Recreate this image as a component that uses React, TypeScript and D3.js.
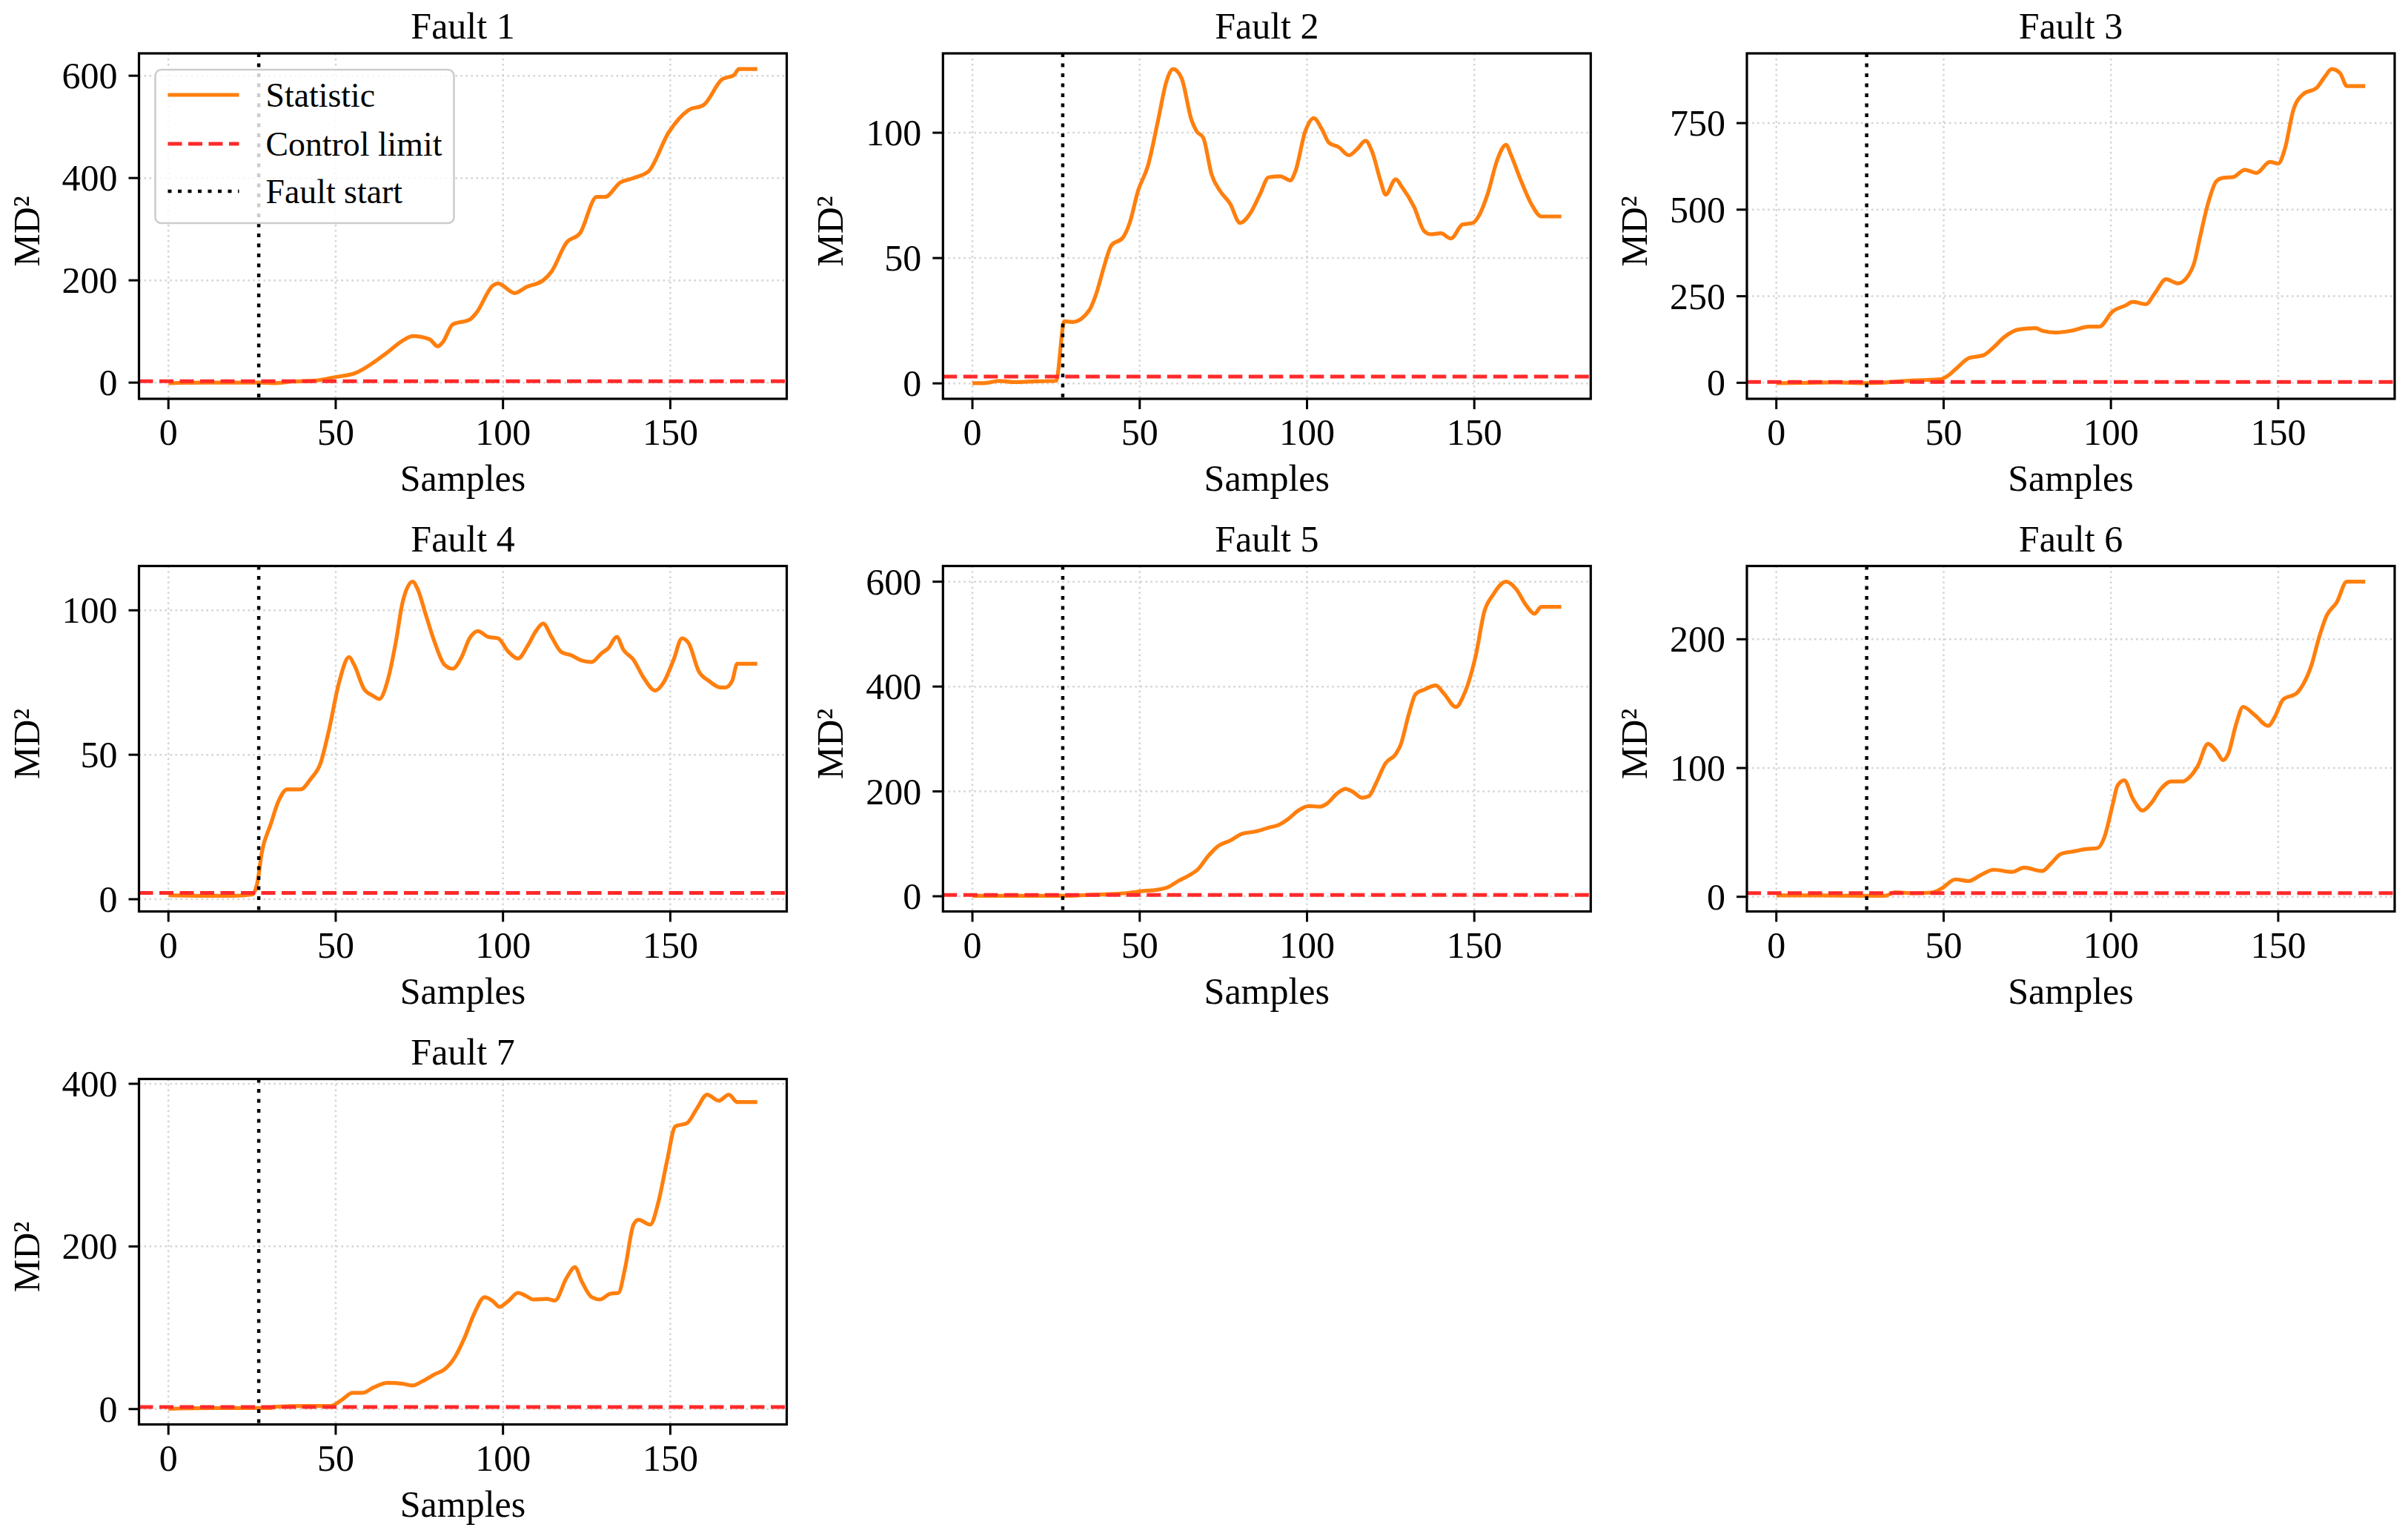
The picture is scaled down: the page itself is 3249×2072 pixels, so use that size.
import * as d3 from "d3";

// sample index where the fault begins (vertical dotted line)
const FAULT_START = 27;
const X_TICKS = [0, 50, 100, 150];

// Fault 1
const f1X = [0, 10, 20, 27, 32, 37, 44, 50, 56, 61, 65, 71, 73, 78, 80.5, 82, 85, 90, 92, 97, 98.5, 103.5, 107, 112, 114.5, 119, 123, 128, 130.5, 135, 139, 143.5, 149.5, 155.5, 160, 165.5, 169, 170.5, 176];
const f1Y = [-1, 0, 0, 0, -1, 2, 4, 11, 19, 38, 57, 86, 91, 85, 71, 79, 114, 123, 136, 190, 194, 175, 187, 200, 217, 274, 292, 363, 363, 391, 400, 413, 489, 533, 543, 593, 601, 613, 613];
const f1Ticks = [0, 200, 400, 600];

// Fault 2
const f2X = [0, 3.5, 8, 12.5, 19, 25, 27.5, 30, 35, 37, 39.5, 41.5, 45, 47, 49.5, 52.5, 55.5, 58, 60, 62.5, 65.5, 67, 69, 71.5, 74, 77, 80, 83, 86, 88.5, 92, 95, 96.5, 99.5, 102, 104.5, 106.5, 109.5, 112.5, 115, 117.5, 119.5, 122, 123.5, 126.5, 128.5, 132, 135, 137, 140, 143, 146.5, 149.5, 151.5, 154, 157, 159.5, 161, 164, 167, 170, 176];
const f2Y = [0.1, 0.1, 1, 0.5, 0.8, 1, 24.8, 24.5, 29.3, 35.7, 47.3, 55, 58.2, 64, 76.8, 87, 105, 120.5, 125.4, 121.8, 105, 100.6, 98, 83.3, 76.8, 71.7, 64, 67.8, 75.6, 82.2, 82.6, 81, 84.5, 100.6, 105.8, 101.3, 96.1, 94.2, 91, 93.5, 96.8, 92.3, 80.7, 75.3, 81.4, 78.1, 70.4, 60.8, 59.5, 59.9, 57.8, 63.4, 64, 67.2, 75.6, 89.7, 95.2, 91, 80.7, 71.7, 66.6, 66.6];
const f2Ticks = [0, 50, 100];

// Fault 3
const f3X = [0, 9.5, 17, 26.5, 31, 35.5, 41, 49, 51.5, 54, 57.5, 62, 65, 68, 72.5, 77.5, 79.5, 83.5, 88, 93.5, 96.5, 100.5, 104.5, 106.5, 110.5, 113, 116.5, 120, 123, 125, 126.5, 129, 131.5, 133.5, 136.5, 140, 143.5, 147.5, 150, 152, 154.5, 157.5, 161.5, 164, 166, 168.5, 170.5, 176];
const f3Y = [-1, 0, 1, -1, 0, 3, 7, 10, 22, 43, 71, 80, 103, 131, 154, 158, 150, 145, 150, 162, 162, 206, 224, 234, 227, 257, 299, 287, 308, 350, 415, 517, 582, 592, 594, 615, 606, 638, 633, 676, 787, 834, 852, 885, 906, 894, 857, 857];
const f3Ticks = [0, 250, 500, 750];

// Fault 4
const f4X = [0, 10.5, 19.5, 25, 26.5, 28, 30.5, 33, 35.5, 39.5, 42.5, 45.5, 48, 51, 54, 55.5, 58.5, 61, 63, 65.5, 68, 70, 73, 74.5, 77, 79.5, 82.5, 85, 87.5, 90, 92.5, 95.5, 98.5, 101.5, 104.5, 107.5, 110, 112, 114.5, 117.5, 120.5, 123.5, 126.5, 129.5, 131.5, 134, 136, 139, 142, 145.5, 148, 151, 153.5, 155.5, 158.5, 161.5, 165, 166.5, 168.5, 170, 176];
const f4Y = [1.4, 1.2, 1.2, 1.6, 5.3, 16.7, 25.7, 34.2, 38, 38, 41.6, 47.2, 58.6, 75, 83.8, 81.2, 72.7, 70.5, 69.3, 75.6, 89.2, 102.8, 109.9, 107.3, 98.2, 89.2, 81.2, 79.8, 83.5, 90.3, 92.8, 90.8, 90.3, 85.8, 83.3, 88, 93.1, 95.4, 90.8, 85.5, 84.4, 82.6, 82.1, 85.2, 86.9, 90.8, 86.3, 82.9, 76.7, 72.2, 75, 82.9, 90.3, 88.6, 78.9, 75.6, 73.3, 73.3, 75.6, 81.5, 81.5];
const f4Ticks = [0, 50, 100];

// Fault 5
const f5X = [0, 17, 29.5, 34, 40, 46, 51, 55.5, 58.5, 61.5, 64.5, 67.5, 70.5, 73.5, 77, 80.5, 85, 88.5, 91.5, 94.5, 97.5, 100.5, 104, 106, 109, 111.5, 113.5, 116.5, 118.5, 120.5, 123.5, 126.5, 128, 130.5, 132.5, 135, 138.5, 141, 144.5, 147, 150.5, 153, 155.5, 159.5, 162.5, 165.5, 168, 170, 176];
const f5Y = [1, 1, 1, 2.5, 3.8, 6, 10, 12.5, 17.5, 29, 39, 52, 77, 96, 106, 119, 124, 131, 136, 148, 164, 172, 171, 177, 196, 205, 200, 188, 191, 214, 254, 271, 289, 349, 386, 394, 402, 386, 361, 386, 461, 543, 574, 600, 586, 555, 539, 552, 552];
const f5Ticks = [0, 200, 400, 600];

// Fault 6
const f6X = [0, 12.5, 25, 32.5, 35.5, 40.5, 46.5, 49.5, 53.5, 57.5, 61, 65, 70.5, 74, 79.5, 82, 85, 89, 92.5, 96, 98, 100.5, 102, 104, 106.5, 109.5, 112, 115, 118, 121.5, 123.5, 126, 129, 131.5, 133.5, 135, 137.5, 139.5, 143, 147, 149, 151.5, 155.5, 157.5, 160, 162, 164.5, 167.5, 170.5, 176];
const f6Y = [1, 1, 0.8, 0.8, 3.5, 2.8, 3.3, 6.6, 13.5, 12.2, 16.8, 21, 19.3, 22.6, 20, 25.6, 33.2, 35.3, 37, 37.8, 46, 71.3, 86.5, 90.4, 76.4, 67, 72.6, 84, 89.6, 89.6, 92.9, 101.8, 118.8, 113.2, 106.1, 110.7, 134.8, 147.5, 141.1, 132.7, 139.8, 153.3, 158.1, 165.2, 180.4, 199.5, 218.5, 228.7, 244.7, 244.7];
const f6Ticks = [0, 100, 200];

// Fault 7
const f7X = [0, 13.5, 30.5, 32, 41, 48.5, 52, 55, 58, 61.5, 65.5, 70, 73, 76, 79.5, 82.5, 85.5, 88.5, 91.5, 94.5, 97, 99, 101.5, 104.5, 107, 109, 113, 115.5, 119, 121.5, 123.5, 126.5, 129, 132, 134.5, 136.5, 139, 140.5, 144, 146.5, 149, 151.5, 155, 158, 161, 164.5, 167.5, 170, 176];
const f7Y = [0.4, 1.2, 1.2, 2.9, 3.7, 3.7, 11.9, 20, 20, 27, 32.3, 31.1, 29, 34.4, 42.6, 48.7, 63, 87.6, 118.3, 137.6, 132.6, 125.7, 132.6, 142.9, 138.8, 134.7, 135.5, 133.5, 161.3, 174.4, 157.2, 137.6, 134.7, 141.7, 142.9, 173.6, 226.8, 232.9, 226.8, 255.5, 304.6, 347.6, 351.7, 370, 386.6, 379.1, 386.6, 377.5, 377.5];
const f7Ticks = [0, 200, 400];

const limits = [2.6, 2.7, 2.6, 2.2, 2.6, 2.8, 2.6];

const faults = [
  { title: "Fault 1", xs: f1X, ys: f1Y, ticks: f1Ticks },
  { title: "Fault 2", xs: f2X, ys: f2Y, ticks: f2Ticks },
  { title: "Fault 3", xs: f3X, ys: f3Y, ticks: f3Ticks },
  { title: "Fault 4", xs: f4X, ys: f4Y, ticks: f4Ticks },
  { title: "Fault 5", xs: f5X, ys: f5Y, ticks: f5Ticks },
  { title: "Fault 6", xs: f6X, ys: f6Y, ticks: f6Ticks },
  { title: "Fault 7", xs: f7X, ys: f7Y, ticks: f7Ticks },
];

const W = 3249;
const H = 2072;
const PW = 874;
const PH = 466;
const colLeft = [187.5, 1272.3, 2357];
const rowTop = [72, 763.5, 1455.5];
const FONT = "'Liberation Serif', 'Times New Roman', serif";
const ORANGE = "#ff7f0e";
const RED = "#ff2a2a";

const Panel = ({ f, limit, left, top, legend }) => {
  const xExt = d3.extent(f.xs);
  const xPad = (xExt[1] - xExt[0]) * 0.05;
  const x = d3.scaleLinear().domain([xExt[0] - xPad, xExt[1] + xPad]).range([left, left + PW]);
  const yExt = d3.extent(f.ys);
  const yPad = (yExt[1] - yExt[0]) * 0.05;
  const y = d3.scaleLinear().domain([yExt[0] - yPad, yExt[1] + yPad]).range([top + PH, top]);

  const line = d3
    .line()
    .x((d) => x(d[0]))
    .y((d) => y(d[1]))
    .curve(d3.curveMonotoneX);
  const pts = f.xs.map((v, i) => [v, f.ys[i]]);

  const bottom = top + PH;
  const cy = top + PH / 2;

  return (
    <g>
      {/* grid */}
      {X_TICKS.map((t) => (
        <line key={"gx" + t} x1={x(t)} x2={x(t)} y1={top} y2={bottom} stroke="#d4d4d4" strokeWidth={2.5} strokeDasharray="2.5,4.5" />
      ))}
      {f.ticks.map((t) => (
        <line key={"gy" + t} x1={left} x2={left + PW} y1={y(t)} y2={y(t)} stroke="#d4d4d4" strokeWidth={2.5} strokeDasharray="2.5,4.5" />
      ))}

      <path d={line(pts)} fill="none" stroke={ORANGE} strokeWidth={5.2} strokeLinejoin="round" />
      <line x1={left} x2={left + PW} y1={y(limit)} y2={y(limit)} stroke={RED} strokeWidth={5} strokeDasharray="19,8.5" />
      <line x1={x(FAULT_START)} x2={x(FAULT_START)} y1={top} y2={bottom} stroke="#000" strokeWidth={4.5} strokeDasharray="5,8.5" />

      {/* spines */}
      <rect x={left} y={top} width={PW} height={PH} fill="none" stroke="#000" strokeWidth={3.2} />

      {/* x ticks */}
      {X_TICKS.map((t) => (
        <g key={"xt" + t}>
          <line x1={x(t)} x2={x(t)} y1={bottom} y2={bottom + 14} stroke="#000" strokeWidth={3} />
          <text x={x(t)} y={bottom + 62} textAnchor="middle" fontSize={50} fontFamily={FONT}>{t}</text>
        </g>
      ))}
      {/* y ticks */}
      {f.ticks.map((t) => (
        <g key={"yt" + t}>
          <line x1={left - 14} x2={left} y1={y(t)} y2={y(t)} stroke="#000" strokeWidth={3} />
          <text x={left - 29} y={y(t) + 17} textAnchor="end" fontSize={50} fontFamily={FONT}>{t}</text>
        </g>
      ))}

      <text x={left + PW / 2} y={top - 20} textAnchor="middle" fontSize={50} fontFamily={FONT}>{f.title}</text>
      <text x={left + PW / 2} y={bottom + 124} textAnchor="middle" fontSize={50} fontFamily={FONT}>Samples</text>
      <text
        transform={`translate(${left - 135},${cy + 7}) rotate(-90)`}
        textAnchor="middle"
        fontSize={50}
        fontFamily={FONT}
      >
        MD²
      </text>

      {legend && (
        <g transform={`translate(${left + 22},${top + 22})`}>
          <rect x={0} y={0} width={403} height={207} rx={8} fill="#fff" fillOpacity={0.8} stroke="#cccccc" strokeWidth={2.5} />
          <line x1={17} x2={113} y1={34} y2={34} stroke={ORANGE} strokeWidth={5.2} />
          <line x1={17} x2={113} y1={100} y2={100} stroke={RED} strokeWidth={5} strokeDasharray="19,8.5" />
          <line x1={17} x2={113} y1={164} y2={164} stroke="#000" strokeWidth={4.5} strokeDasharray="5,8.5" />
          <text x={149} y={50} fontSize={45.8} fontFamily={FONT}>Statistic</text>
          <text x={149} y={116} fontSize={45.8} fontFamily={FONT}>Control limit</text>
          <text x={149} y={180} fontSize={45.8} fontFamily={FONT}>Fault start</text>
        </g>
      )}
    </g>
  );
};

export default function App() {
  return (
    <svg
      width={W}
      height={H}
      viewBox={`0 0 ${W} ${H}`}
      style={{ position: "absolute", left: 0, top: 0, background: "#fff" }}
    >
      <rect width={W} height={H} fill="#fff" />
      {faults.map((f, i) => (
        <Panel
          key={f.title}
          f={f}
          limit={limits[i]}
          left={colLeft[i % 3]}
          top={rowTop[Math.floor(i / 3)]}
          legend={i === 0}
        />
      ))}
    </svg>
  );
}
